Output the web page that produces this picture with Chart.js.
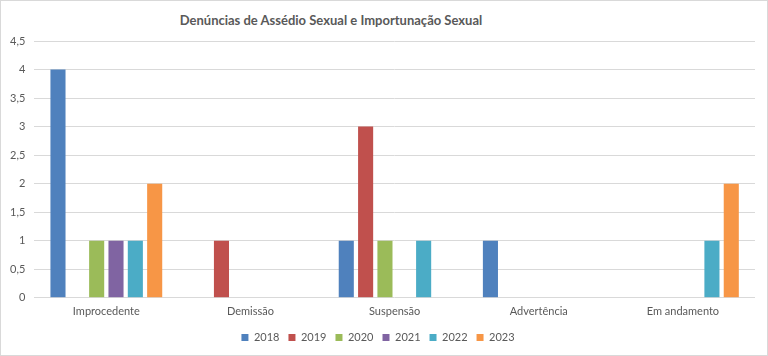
<!DOCTYPE html>
<html>
<head>
<meta charset="utf-8">
<script src="https://cdn.jsdelivr.net/npm/chart.js@4/dist/chart.umd.min.js"></script>
<style>
  html, body { margin: 0; padding: 0; background: #fff; }
  #wrap { position: relative; width: 768px; height: 356px; box-sizing: border-box; border: 1px solid #d9d9d9; }
  #title { position: absolute; left: 0; width: 660px; top: 11px; text-align: center; font: bold 13px Lato, sans-serif; color: #595959; }
  canvas { position: absolute; left: 0; top: 0; }
</style>
</head>
<body>
<div id="wrap">
  <div id="title">Denúncias de Assédio Sexual e Importunação Sexual</div>
  <canvas id="c" width="766" height="354"></canvas>
</div>
<script>
const categories = ["Improcedente", "Demissão", "Suspensão", "Advertência", "Em andamento"];
const years = ["2018", "2019", "2020", "2021", "2022", "2023"];
const v2018 = [4, 0, 1, 1, 0];
const v2019 = [0, 1, 3, 0, 0];
const v2020 = [1, 0, 1, 0, 0];
const v2021 = [1, 0, 0, 0, 0];
const v2022 = [1, 0, 1, 0, 1];
const v2023 = [2, 0, 0, 0, 2];
const yTicks = [0, 0.5, 1, 1.5, 2, 2.5, 3, 3.5, 4, 4.5];
const colors = ["#4F81BD", "#C0504D", "#9BBB59", "#8064A2", "#4BACC6", "#F79646"];
const series = [v2018, v2019, v2020, v2021, v2022, v2023];

const font = { family: "Lato, sans-serif", size: 11 };
new Chart(document.getElementById("c"), {
  type: "bar",
  data: {
    labels: categories,
    datasets: years.map((y, i) => ({
      label: y,
      data: series[i],
      backgroundColor: colors[i],
      borderWidth: 0,
      categoryPercentage: 0.805,
      barPercentage: 0.78
    }))
  },
  options: {
    responsive: false,
    animation: false,
    layout: { padding: { top: 40, left: 0, right: 12, bottom: 2 } },
    plugins: {
      title: { display: false },
      tooltip: { enabled: false },
      legend: {
        position: "bottom",
        labels: { boxWidth: 7, boxHeight: 7, color: "#595959", font: font, padding: 9 }
      }
    },
    scales: {
      x: {
        grid: { display: false },
        border: { display: false },
        ticks: { color: "#595959", font: font, padding: -1 },
        afterFit: (s) => { s.height += 6; }
      },
      y: {
        min: 0, max: 4.5,
        afterBuildTicks: (axis) => { axis.ticks = yTicks.map(v => ({ value: v })); },
        grid: { color: "#d9d9d9", drawTicks: false },
        border: { display: false },
        ticks: {
          color: "#595959", font: font, padding: 9,
          callback: (v) => String(v).replace(".", ",")
        }
      }
    }
  }
});
</script>
</body>
</html>
